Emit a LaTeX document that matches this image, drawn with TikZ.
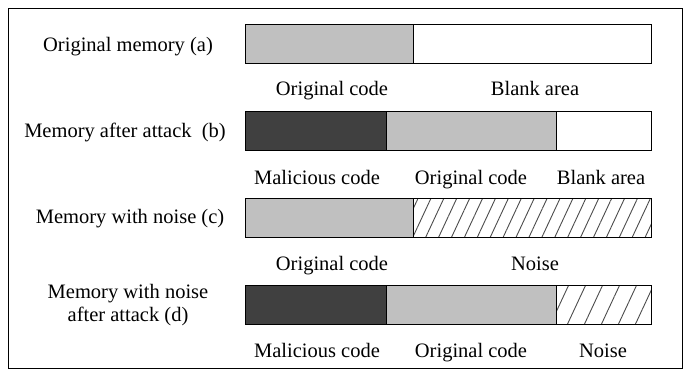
\documentclass[tikz,border=0pt]{standalone}
\usepackage{fontspec}
\setmainfont{Liberation Serif}
\usetikzlibrary{patterns.meta}
\begin{document}
\begin{tikzpicture}[x=1pt,y=-1pt,
  seg/.style={draw=black, line width=1.4pt, inner sep=0pt, anchor=north west, minimum height=39pt},
  origseg/.style={seg, fill=orig},
  malseg/.style={seg, fill=mal},
  blankseg/.style={seg, fill=white},
  noisefill/.style={inner sep=0pt, anchor=north west, minimum height=39pt, fill=white,
     postaction={pattern={Lines[angle=65, distance=#1, line width=0.9pt]}, pattern color=black!70}},
  lbl/.style={font=\fontsize{20.5}{23}\selectfont, inner sep=0pt, anchor=base}]
\definecolor{orig}{HTML}{C0C0C0}
\definecolor{mal}{HTML}{404040}
\useasboundingbox (0,0) rectangle (690,375);
\node[draw=black, line width=1.4pt, inner sep=0pt, anchor=north west, minimum width=674pt, minimum height=360pt] (frame) at (8,8) {};

% row a
\node[lbl] (ta) at (128,51) {Original memory (a)};
\node[origseg, minimum width=168pt] (a1) at (245,24) {};
\node[blankseg, minimum width=238pt] (a2) at (413,24) {};
\node[lbl] (la1) at (332,95) {Original code};
\node[lbl] (la2) at (535,95) {Blank area};

% row b
\node[lbl] (tb) at (125,137) {Memory after attack\ \ (b)};
\node[malseg, minimum width=141pt] (b1) at (245,111) {};
\node[origseg, minimum width=170pt] (b2) at (386,111) {};
\node[blankseg, minimum width=95pt] (b3) at (556,111) {};
\node[lbl] (lb1) at (317,184) {Malicious code};
\node[lbl] (lb2) at (471,184) {Original code};
\node[lbl] (lb3) at (601,184) {Blank area};

% row c
\node[lbl] (tc) at (130,223) {Memory with noise (c)};
\node[noisefill=11.7pt, minimum width=238pt] (c2f) at (413,198) {};
\node[origseg, minimum width=168pt] (c1) at (245,198) {};
\node[seg, minimum width=238pt] (c2) at (413,198) {};
\node[lbl] (lc1) at (332,270) {Original code};
\node[lbl] (lc2) at (535,270) {Noise};

% row d
\node[lbl] (td1) at (128,298) {Memory with noise};
\node[lbl] (td2) at (128,321) {after attack (d)};
\node[noisefill=15.4pt, minimum width=95pt] (d3f) at (556,285) {};
\node[malseg, minimum width=141pt] (d1) at (245,285) {};
\node[origseg, minimum width=170pt] (d2) at (386,285) {};
\node[seg, minimum width=95pt] (d3) at (556,285) {};
\node[lbl] (ld1) at (317,357) {Malicious code};
\node[lbl] (ld2) at (471,357) {Original code};
\node[lbl] (ld3) at (603,357) {Noise};
\end{tikzpicture}
\end{document}
